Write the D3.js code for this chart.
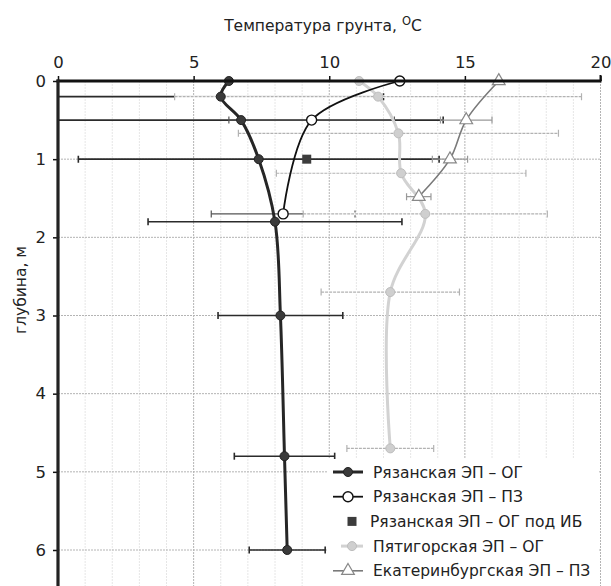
<!DOCTYPE html>
<html>
<head>
<meta charset="utf-8">
<script src="https://cdn.jsdelivr.net/npm/d3@7/dist/d3.min.js"></script>
<style>
  html, body { margin: 0; padding: 0; background: #fff; }
  svg { display: block; }
  text { font-family: "DejaVu Sans", Verdana, sans-serif; fill: #222; }
</style>
</head>
<body>
<svg id="chart" width="611" height="586"></svg>
<script>
// Ground temperature profiles vs depth
const xTicks = [0, 5, 10, 15, 20];
const yTicks = [0, 1, 2, 3, 4, 5, 6];

// Рязанская ЭП – ОГ
const ryazOgDepth = [0, 0.2, 0.5, 1.0, 1.8, 3.0, 4.8, 6.0];
const ryazOgTemp  = [6.3, 6.0, 6.75, 7.4, 8.0, 8.2, 8.35, 8.45];
const ryazOgErr   = [0, 6.0, 7.45, 6.65, 4.68, 2.3, 1.85, 1.4];

// Рязанская ЭП – ПЗ
const ryazPzDepth = [0, 0.5, 1.7];
const ryazPzTemp  = [12.6, 9.35, 8.3];
const ryazPzErr   = [0, 3.05, 2.65];

// Рязанская ЭП – ОГ под ИБ
const ryazIbDepth = [1.0];
const ryazIbTemp  = [9.17];

// Пятигорская ЭП – ОГ
const pyatDepth = [0, 0.2, 0.67, 1.18, 1.7, 2.7, 4.7];
const pyatTemp  = [11.1, 11.8, 12.55, 12.65, 13.54, 12.25, 12.25];
const pyatErr   = [0, 7.5, 5.9, 4.6, 4.5, 2.55, 1.6];

// Екатеринбургская ЭП – ПЗ
const ekatDepth = [0, 0.5, 1.0, 1.48];
const ekatTemp  = [16.25, 15.05, 14.45, 13.3];
const ekatErr   = [0, 0.95, 0.65, 0.45];

const legendLabels = [
  "Рязанская ЭП – ОГ",
  "Рязанская ЭП – ПЗ",
  "Рязанская ЭП – ОГ под ИБ",
  "Пятигорская ЭП – ОГ",
  "Екатеринбургская ЭП – ПЗ"
];

const svg = d3.select("#chart");
const x = d3.scaleLinear().domain([0, 20]).range([58, 600.5]);
const y = d3.scaleLinear().domain([0, 6]).range([81, 550]);
const yBottom = 600;

svg.append("rect").attr("width", 611).attr("height", 586).attr("fill", "#fff");

svg.append("defs").append("clipPath").attr("id", "plot")
  .append("rect").attr("x", x(0)).attr("y", y(0) - 10)
  .attr("width", x(20) - x(0) + 2).attr("height", yBottom);

// grid
const grid = svg.append("g");
grid.selectAll(".vminor").data(d3.range(1, 20).filter(v => v % 5 !== 0)).join("line")
  .attr("x1", d => x(d)).attr("x2", d => x(d))
  .attr("y1", y(0)).attr("y2", yBottom)
  .attr("stroke", "#e6e6e6").attr("stroke-width", 1).attr("stroke-dasharray", "2,1");
grid.selectAll(".vmajor").data([5, 10, 15, 20]).join("line")
  .attr("x1", d => x(d)).attr("x2", d => x(d))
  .attr("y1", y(0)).attr("y2", yBottom)
  .attr("stroke", "#b4b4b4").attr("stroke-width", 1).attr("stroke-dasharray", "2,1");
grid.selectAll(".hmajor").data(yTicks.slice(1)).join("line")
  .attr("x1", x(0)).attr("x2", x(20))
  .attr("y1", d => y(d)).attr("y2", d => y(d))
  .attr("stroke", "#b4b4b4").attr("stroke-width", 1).attr("stroke-dasharray", "2,1");

const plot = svg.append("g").attr("clip-path", "url(#plot)");

function errorBars(depth, temp, err, color, width, dash, underlay) {
  const g = plot.append("g");
  depth.forEach((d, i) => {
    if (!err[i]) return;
    const lo = temp[i] - err[i], hi = temp[i] + err[i], yy = y(d);
    if (underlay) {
      g.append("line").attr("x1", x(lo)).attr("x2", x(hi)).attr("y1", yy).attr("y2", yy)
        .attr("stroke", "#fff").attr("stroke-width", 2.6);
    }
    g.append("line").attr("x1", x(lo)).attr("x2", x(hi)).attr("y1", yy).attr("y2", yy)
      .attr("stroke", color).attr("stroke-width", width).attr("stroke-dasharray", dash || null);
    [lo, hi].forEach(v => g.append("line")
      .attr("x1", x(v)).attr("x2", x(v)).attr("y1", yy - 3.5).attr("y2", yy + 3.5)
      .attr("stroke", color).attr("stroke-width", width));
  });
}

const line = d3.line().x(d => x(d[0])).y(d => y(d[1])).curve(d3.curveCatmullRom.alpha(0.5));
const pts = (t, dd) => t.map((v, i) => [v, dd[i]]);

// error bars
errorBars(ryazOgDepth, ryazOgTemp, ryazOgErr, "#2b2b2b", 1.6);
errorBars(ryazPzDepth, ryazPzTemp, ryazPzErr, "#555", 1.2);
errorBars(pyatDepth, pyatTemp, pyatErr, "#b2b2b2", 1.2, "3,1", true);
errorBars(ekatDepth, ekatTemp, ekatErr, "#999", 1.2);

// Пятигорская
plot.append("path").datum(pts(pyatTemp, pyatDepth)).attr("d", line)
  .attr("fill", "none").attr("stroke", "#d2d2d2").attr("stroke-width", 3);
plot.selectAll(".pyat").data(pts(pyatTemp, pyatDepth)).join("circle")
  .attr("cx", d => x(d[0])).attr("cy", d => y(d[1])).attr("r", 4.5)
  .attr("fill", "#cfcfcf").attr("stroke", "#bdbdbd").attr("stroke-width", 1);

// Екатеринбургская
const tri = d3.symbol().type(d3.symbolTriangle).size(70);
plot.append("path").datum(pts(ekatTemp, ekatDepth)).attr("d", line)
  .attr("fill", "none").attr("stroke", "#7a7a7a").attr("stroke-width", 1.6);
plot.selectAll(".ekat").data(pts(ekatTemp, ekatDepth)).join("path")
  .attr("d", tri).attr("transform", d => `translate(${x(d[0])},${y(d[1])})`)
  .attr("fill", "#fff").attr("stroke", "#888").attr("stroke-width", 1.2);

// Рязанская ПЗ
plot.append("path").datum(pts(ryazPzTemp, ryazPzDepth)).attr("d", line)
  .attr("fill", "none").attr("stroke", "#111").attr("stroke-width", 1.8);
plot.selectAll(".pz").data(pts(ryazPzTemp, ryazPzDepth)).join("circle")
  .attr("cx", d => x(d[0])).attr("cy", d => y(d[1])).attr("r", 5)
  .attr("fill", "#fff").attr("stroke", "#111").attr("stroke-width", 1.4);

// Рязанская ОГ
plot.append("path").datum(pts(ryazOgTemp, ryazOgDepth)).attr("d", line)
  .attr("fill", "none").attr("stroke", "#262626").attr("stroke-width", 3);
plot.selectAll(".og").data(pts(ryazOgTemp, ryazOgDepth)).join("circle")
  .attr("cx", d => x(d[0])).attr("cy", d => y(d[1])).attr("r", 4.5)
  .attr("fill", "#3a3a3a").attr("stroke", "#222").attr("stroke-width", 1);

// Рязанская ОГ под ИБ
plot.selectAll(".ib").data(pts(ryazIbTemp, ryazIbDepth)).join("rect")
  .attr("x", d => x(d[0]) - 4.5).attr("y", d => y(d[1]) - 4.5)
  .attr("width", 9).attr("height", 9).attr("fill", "#3c3c3c");

// axes
const xAxis = svg.append("g").attr("transform", `translate(0,${y(0)})`)
  .call(d3.axisTop(x).tickValues(xTicks).tickSize(5).tickFormat(d3.format("d")).tickPadding(8));
const yAxis = svg.append("g").attr("transform", `translate(${x(0)},0)`)
  .call(d3.axisLeft(y).tickValues(yTicks).tickSize(5).tickFormat(d3.format("d")).tickPadding(7));
[xAxis, yAxis].forEach(a => {
  a.select(".domain").remove();
  a.selectAll(".tick line").attr("stroke", "#111").attr("stroke-width", 1.5);
  a.selectAll("text").attr("font-size", 16.5).attr("fill", "#222")
    .style("font-family", '"DejaVu Sans", Verdana, sans-serif');
});
svg.append("line").attr("x1", x(0) - 1.5).attr("x2", x(20) + 1)
  .attr("y1", y(0)).attr("y2", y(0)).attr("stroke", "#111").attr("stroke-width", 3);
svg.append("line").attr("x1", x(0)).attr("x2", x(0))
  .attr("y1", y(0) - 1.5).attr("y2", yBottom).attr("stroke", "#222").attr("stroke-width", 3.2);
svg.append("line").attr("x1", x(20)).attr("x2", x(20))
  .attr("y1", y(0) - 6).attr("y2", y(0)).attr("stroke", "#111").attr("stroke-width", 2);

// axis titles
const title = svg.append("text").attr("x", 323).attr("y", 31)
  .attr("text-anchor", "middle").attr("font-size", 15.5).attr("fill", "#333");
title.append("tspan").text("Температура грунта, ");
title.append("tspan").attr("font-size", 11.5).attr("dy", -6).text("O");
title.append("tspan").attr("dy", 6).text("C");

svg.append("text").attr("transform", "translate(26,290) rotate(-90)")
  .attr("text-anchor", "middle").attr("font-size", 15.5).attr("fill", "#333")
  .text("глубина, м");

// legend
const leg = svg.append("g");
leg.append("rect").attr("x", 328).attr("y", 459).attr("width", 271).attr("height", 130).attr("fill", "#fff");
const ly = i => 472 + i * 24.7;
const lx0 = 333, lx1 = 363, lm = 348;
// row 0
leg.append("line").attr("x1", lx0).attr("x2", lx1).attr("y1", ly(0)).attr("y2", ly(0))
  .attr("stroke", "#262626").attr("stroke-width", 3);
leg.append("circle").attr("cx", lm).attr("cy", ly(0)).attr("r", 4.5).attr("fill", "#3a3a3a").attr("stroke", "#222");
// row 1
leg.append("line").attr("x1", lx0).attr("x2", lx1).attr("y1", ly(1)).attr("y2", ly(1))
  .attr("stroke", "#111").attr("stroke-width", 1.8);
leg.append("circle").attr("cx", lm).attr("cy", ly(1)).attr("r", 5).attr("fill", "#fff").attr("stroke", "#111").attr("stroke-width", 1.4);
// row 2
leg.append("rect").attr("x", 352 - 4.5).attr("y", ly(2) - 4.5).attr("width", 9).attr("height", 9).attr("fill", "#3c3c3c");
// row 3
leg.append("line").attr("x1", 341).attr("x2", lx1).attr("y1", ly(3)).attr("y2", ly(3))
  .attr("stroke", "#d2d2d2").attr("stroke-width", 3);
leg.append("circle").attr("cx", 352).attr("cy", ly(3)).attr("r", 4.5).attr("fill", "#cfcfcf").attr("stroke", "#bdbdbd");
// row 4
leg.append("line").attr("x1", lx0).attr("x2", lx1).attr("y1", ly(4)).attr("y2", ly(4))
  .attr("stroke", "#7a7a7a").attr("stroke-width", 1.6);
leg.append("path").attr("d", tri).attr("transform", `translate(${lm},${ly(4)})`)
  .attr("fill", "#fff").attr("stroke", "#888").attr("stroke-width", 1.2);

leg.selectAll(".lt").data(legendLabels).join("text")
  .attr("x", (d, i) => i === 2 ? 370 : 373).attr("y", (d, i) => ly(i) + 5.5)
  .attr("font-size", 15.5).attr("fill", "#222").text(d => d);
</script>
</body>
</html>
